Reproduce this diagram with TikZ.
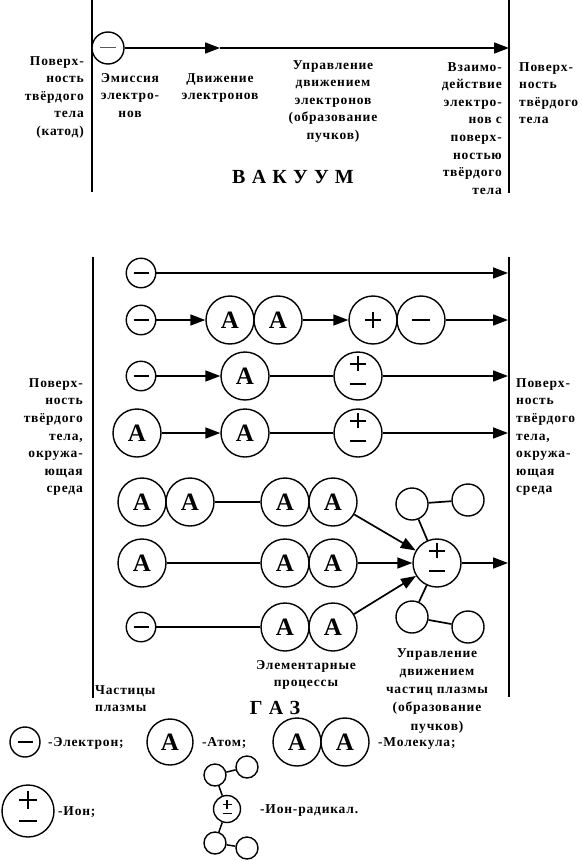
\documentclass[tikz,border=0pt]{standalone}
\usepackage{fontspec}
\setmainfont{Liberation Serif}[LetterSpace=6]
\newfontfamily\plainserif{Liberation Serif}
\usetikzlibrary{arrows.meta}
\newcommand\fl{\rule{0pt}{11pt}}
\begin{document}
\begin{tikzpicture}[x=1pt,y=-1pt,
  every node/.style={inner sep=0pt},
  lab/.style={font=\bfseries\fontsize{13.5}{17.6}\selectfont},
  big/.style={font=\bfseries\fontsize{20}{24}\selectfont},
  ptc/.style={circle,draw,line width=1.4pt,fill=white,inner sep=0pt},
  electron/.style={ptc,minimum size=29.5pt,path picture={
     \draw[line width=2.2pt] ([xshift=-7.5pt]path picture bounding box.center) -- ([xshift=7.5pt]path picture bounding box.center);}},
  velectron/.style={ptc,minimum size=32pt,path picture={
     \draw[line width=1pt,black!65] ([xshift=-8pt]path picture bounding box.center) -- ([xshift=8pt]path picture bounding box.center);}},
  thinminus/.style={ptc,minimum size=48pt,path picture={
     \draw[line width=1.1pt] ([xshift=-9pt]path picture bounding box.center) -- ([xshift=9pt]path picture bounding box.center);}},
  thinplus/.style={ptc,minimum size=48pt,path picture={
     \draw[line width=1.3pt] ([xshift=-8pt]path picture bounding box.center) -- ([xshift=8pt]path picture bounding box.center)
        ([yshift=-8pt]path picture bounding box.center) -- ([yshift=8pt]path picture bounding box.center);}},
  atom/.style={ptc,minimum size=48pt,font=\plainserif\bfseries\fontsize{25}{25}\selectfont},
  ion/.style={ptc,minimum size=48pt,path picture={
     \draw[line width=2pt] ([shift={(-8,-12.5)}]path picture bounding box.center) -- ([shift={(8,-12.5)}]path picture bounding box.center)
        ([shift={(0,-20)}]path picture bounding box.center) -- ([shift={(0,-5)}]path picture bounding box.center)
        ([shift={(-8,7.5)}]path picture bounding box.center) -- ([shift={(8,7.5)}]path picture bounding box.center);}},
  bigion/.style={ptc,minimum size=52pt,path picture={
     \draw[line width=2pt] ([shift={(-9,-11)}]path picture bounding box.center) -- ([shift={(9,-11)}]path picture bounding box.center)
        ([shift={(0,-20)}]path picture bounding box.center) -- ([shift={(0,-2)}]path picture bounding box.center)
        ([shift={(-9,10)}]path picture bounding box.center) -- ([shift={(9,10)}]path picture bounding box.center);}},
  smallion/.style={ptc,minimum size=27pt,path picture={
     \draw[line width=1.4pt] ([shift={(-4.5,-4.5)}]path picture bounding box.center) -- ([shift={(4.5,-4.5)}]path picture bounding box.center)
        ([shift={(0,-9)}]path picture bounding box.center) -- ([shift={(0,0)}]path picture bounding box.center)
        ([shift={(-4.5,4.5)}]path picture bounding box.center) -- ([shift={(4.5,4.5)}]path picture bounding box.center);}},
  rad/.style={ptc,minimum size=32pt},
  smallrad/.style={ptc,minimum size=22pt},
  wall/.style={line width=2pt},
  conn/.style={line width=1.7pt},
  arr/.style={line width=1.7pt,-{Triangle[length=15pt,width=11pt]}},
]
\useasboundingbox (0,0) rectangle (581,861);

% ---------------- VACUUM ----------------
\coordinate (vlt) at (92,0); \coordinate (vlb) at (92,192);
\coordinate (vrt) at (509,0); \coordinate (vrb) at (509,193);
\draw[wall] (vlt) -- (vlb);
\draw[wall] (vrt) -- (vrb);
\node[velectron] (ve) at (108,48) {};
\coordinate (vm) at (220,48);
\coordinate (vr) at (509,48);
\draw[arr] (ve) -- (vm);
\draw[arr] (vm) -- (vr);

\node[lab,align=right,anchor=north east] (vt1) at (84,54) {\fl Поверх-\\ность\\твёрдого\\тела\\(катод)};
\node[lab,align=center,anchor=north] (vt2) at (130,71) {\fl Эмиссия\\электро-\\нов};
\node[lab,align=center,anchor=north] (vt3) at (220,71) {\fl Движение\\электронов};
\node[lab,align=center,anchor=north] (vt4) at (333,58) {\fl Управление\\движением\\электронов\\(образование\\пучков)};
\node[lab,align=right,anchor=north east] (vt5) at (502,60) {\fl Взаимо-\\действие\\электро-\\нов с\\поверх-\\ностью\\твёрдого\\тела};
\node[lab,align=left,anchor=north west] (vt6) at (519,60) {\fl Поверх-\\ность\\твёрдого\\тела};
\node[big] (vac) at (293,177) {В А К У У М};

% ---------------- GAS ----------------
\coordinate (glt) at (92.5,257); \coordinate (glb) at (92.5,698);
\coordinate (grt) at (508.5,257); \coordinate (grb) at (508.5,697);
\draw[wall] (glt) -- (glb);
\draw[wall] (grt) -- (grb);

% row 1
\node[electron] (e1) at (141,273) {};
\coordinate (r1) at (508,273);
\draw[arr] (e1) -- (r1);

% row 2
\node[electron] (e2) at (141,320) {};
\node[atom] (m2a) at (230,320) {A};
\node[atom] (m2b) at (278,320) {A};
\node[thinplus] (p2) at (373,320) {};
\node[thinminus] (n2) at (421,320) {};
\coordinate (r2) at (508,320);
\draw[arr] (e2) -- (m2a);
\draw[arr] (m2b) -- (p2);
\draw[arr] (n2) -- (r2);

% row 3
\node[electron] (e3) at (141,376) {};
\node[atom] (a3) at (245,376) {A};
\node[ion] (i3) at (358,376) {};
\coordinate (r3) at (508,376);
\draw[arr] (e3) -- (a3);
\draw[conn] (a3) -- (i3);
\draw[arr] (i3) -- (r3);

% row 4
\node[atom] (a4) at (137,433) {A};
\node[atom] (a4b) at (245,433) {A};
\node[ion] (i4) at (358,433) {};
\coordinate (r4) at (508,433);
\draw[arr] (a4) -- (a4b);
\draw[conn] (a4b) -- (i4);
\draw[arr] (i4) -- (r4);

% central ion-radical
\node[ion] (I) at (437,563) {};
\node[rad] (s1) at (412,504) {};
\node[rad] (s2) at (468,500) {};
\node[rad] (s3) at (412,617) {};
\node[rad] (s4) at (468,627) {};
\draw[conn] (I) -- (s1);
\draw[conn] (s1) -- (s2);
\draw[conn] (I) -- (s3);
\draw[conn] (s3) -- (s4);

% row 5
\node[atom] (m5a) at (142,502) {A};
\node[atom] (m5b) at (190,502) {A};
\node[atom] (m5c) at (285,502) {A};
\node[atom] (m5d) at (333,502) {A};
\draw[conn] (m5b) -- (m5c);
\draw[arr] (m5d) -- (I);

% row 6
\node[atom] (a6) at (142,563) {A};
\node[atom] (m6a) at (285,563) {A};
\node[atom] (m6b) at (333,563) {A};
\coordinate (r6) at (508,563);
\draw[conn] (a6) -- (m6a);
\draw[arr] (m6b) -- (I);
\draw[arr] (I) -- (r6);

% row 7
\node[electron] (e7) at (141,627) {};
\node[atom] (m7a) at (285,627) {A};
\node[atom] (m7b) at (333,627) {A};
\draw[conn] (e7) -- (m7a);
\draw[arr] (m7b) -- (I);

% gas labels
\node[lab,align=right,anchor=north east] (gt1) at (83,376) {\fl Поверх-\\ность\\твёрдого\\тела,\\окружа-\\ющая\\среда};
\node[lab,align=left,anchor=north west] (gt2) at (516,376) {\fl Поверх-\\ность\\твёрдого\\тела,\\окружа-\\ющая\\среда};
\node[lab,align=center,anchor=north] (gt3) at (306,658) {\fl Элементарные\\процессы};
\node[lab,align=center,anchor=north,font=\bfseries\fontsize{13.5}{18.2}\selectfont] (gt4) at (437,646) {\fl Управление\\движением\\частиц плазмы\\(образование\\пучков)};
\node[lab,align=left,anchor=north west] (gt5) at (95,683) {\fl Частицы\\плазмы};
\node[big] (gas) at (275,708) {Г А З};

% ---------------- LEGEND ----------------
\node[electron,minimum size=30pt] (le) at (25,742) {};
\node[lab,anchor=base west] (lte) at (48,746) {-Электрон;};
\node[atom,minimum size=46pt] (la) at (170,742) {A};
\node[lab,anchor=base west] (lta) at (202,746) {-Атом;};
\node[atom] (lm1) at (297,742) {A};
\node[atom] (lm2) at (345,742) {A};
\node[lab,anchor=base west] (ltm) at (378,746) {-Молекула;};
\node[bigion] (li) at (28,811) {};
\node[lab,anchor=base west] (lti) at (58,815) {-Ион;};
\node[smallion] (lr) at (227,809) {};
\node[smallrad] (lr1) at (215,775) {};
\node[smallrad] (lr2) at (247,767) {};
\node[smallrad] (lr3) at (215,843) {};
\node[smallrad] (lr4) at (247,848) {};
\draw[conn,line width=1.5pt] (lr) -- (lr1);
\draw[conn,line width=1.5pt] (lr1) -- (lr2);
\draw[conn,line width=1.5pt] (lr) -- (lr3);
\draw[conn,line width=1.5pt] (lr3) -- (lr4);
\node[lab,anchor=base west] (ltr) at (260,813) {-Ион-радикал.};
\end{tikzpicture}
\end{document}
